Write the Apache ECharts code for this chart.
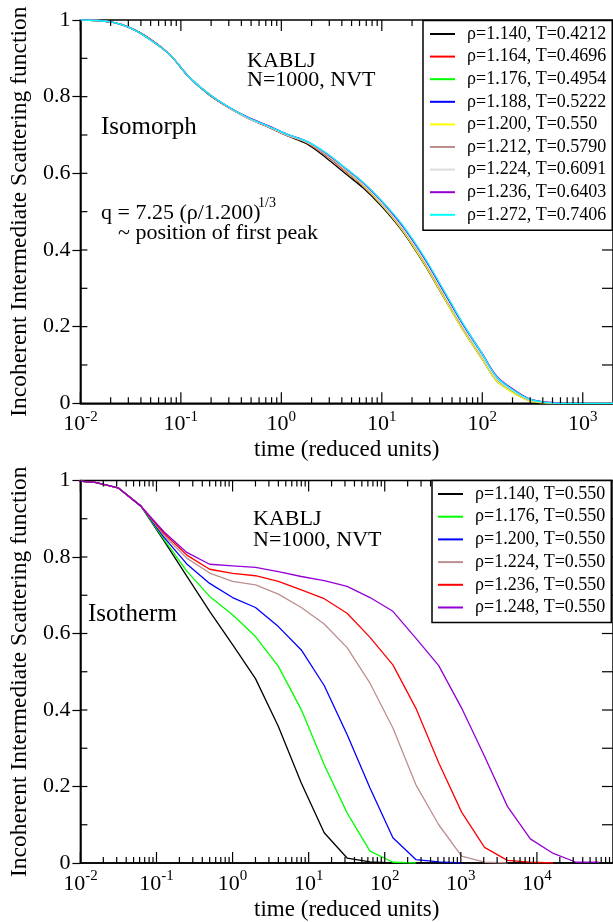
<!DOCTYPE html>
<html>
<head>
<meta charset="utf-8">
<script src="https://cdn.jsdelivr.net/npm/echarts@6/dist/echarts.min.js"></script>
<style>
html,body{margin:0;padding:0;background:#fff;}
#c{width:613px;height:922px;}
</style>
</head>
<body>
<div id="c"></div>
<script>
const FONT = 'Liberation Serif';

// ---------- Top panel (isomorph) ----------
const timeTop = [0.01, 0.02, 0.032, 0.05, 0.078, 0.12, 0.19, 0.3, 0.47, 0.73, 1.14, 1.78, 2.8, 4.4, 6.5, 10, 16, 26, 41, 64, 100, 140, 210, 300, 450, 700, 1200, 2000];
const namesTop = ['ρ=1.140, T=0.4212', 'ρ=1.164, T=0.4696', 'ρ=1.176, T=0.4954', 'ρ=1.188, T=0.5222', 'ρ=1.200, T=0.550', 'ρ=1.212, T=0.5790', 'ρ=1.224, T=0.6091', 'ρ=1.236, T=0.6403', 'ρ=1.272, T=0.7406'];
const colorsTop = ['#000000', '#ff0000', '#00ff00', '#0000ff', '#ffff00', '#bc8f8f', '#dcdcdc', '#9400d3', '#00ffff'];
const iso1140 = [1.0,0.995,0.979,0.950,0.909,0.851,0.805,0.771,0.743,0.722,0.698,0.677,0.640,0.598,0.562,0.513,0.449,0.366,0.278,0.192,0.115,0.058,0.026,0.007,0.001,0,0,0];
const iso1164 = [1.0,0.995,0.978,0.949,0.909,0.852,0.806,0.771,0.743,0.722,0.699,0.680,0.646,0.604,0.567,0.517,0.453,0.370,0.282,0.195,0.118,0.060,0.028,0.008,0.002,0,0,0];
const iso1176 = [1.0,0.995,0.978,0.948,0.909,0.852,0.807,0.772,0.744,0.723,0.700,0.681,0.648,0.606,0.569,0.518,0.453,0.370,0.281,0.194,0.117,0.059,0.027,0.008,0.001,0,0,0];
const iso1188 = [1.0,0.995,0.978,0.948,0.909,0.852,0.807,0.772,0.745,0.724,0.701,0.683,0.651,0.610,0.574,0.524,0.461,0.380,0.291,0.205,0.127,0.067,0.032,0.010,0.002,0,0,0];
const iso1200 = [1.0,0.995,0.978,0.948,0.909,0.852,0.807,0.772,0.744,0.723,0.700,0.682,0.649,0.607,0.569,0.518,0.452,0.368,0.279,0.192,0.115,0.058,0.025,0.006,0.001,0,0,0];
const iso1212 = [1.0,0.995,0.979,0.949,0.909,0.852,0.806,0.771,0.743,0.722,0.699,0.681,0.648,0.607,0.570,0.520,0.455,0.373,0.284,0.197,0.120,0.062,0.029,0.008,0.002,0,0,0];
const iso1224 = [1.0,0.995,0.978,0.948,0.909,0.852,0.807,0.772,0.744,0.723,0.700,0.682,0.650,0.609,0.572,0.522,0.458,0.376,0.287,0.200,0.122,0.063,0.030,0.009,0.002,0,0,0];
const iso1236 = [1.0,0.995,0.978,0.948,0.909,0.852,0.807,0.773,0.746,0.725,0.702,0.684,0.652,0.612,0.576,0.527,0.464,0.383,0.295,0.208,0.130,0.070,0.034,0.011,0.003,0,0,0];
const iso1272 = [1.0,0.995,0.978,0.948,0.909,0.852,0.807,0.773,0.745,0.724,0.702,0.684,0.653,0.613,0.577,0.528,0.466,0.385,0.297,0.209,0.129,0.068,0.032,0.010,0.002,0,0,0];
const valuesTop = [iso1140, iso1164, iso1176, iso1188, iso1200, iso1212, iso1224, iso1236, iso1272];

// ---------- Bottom panel (isotherm) ----------
const timeBot = [0.0078125, 0.015625, 0.03125, 0.0625, 0.125, 0.25, 0.5, 1, 2, 4, 8, 16, 32, 64, 128, 256, 512, 1024, 2048, 4096, 8192, 16384, 32768, 65536];
const namesBot = ['ρ=1.140, T=0.550', 'ρ=1.176, T=0.550', 'ρ=1.200, T=0.550', 'ρ=1.224, T=0.550', 'ρ=1.236, T=0.550', 'ρ=1.248, T=0.550'];
const colorsBot = ['#000000', '#00ff00', '#0000ff', '#bc8f8f', '#ff0000', '#9400d3'];
const ith1140 = [1.0,0.995,0.981,0.933,0.843,0.750,0.658,0.571,0.482,0.357,0.209,0.079,0.013,0.003,0.0];
const ith1176 = [1.0,0.995,0.981,0.933,0.847,0.763,0.697,0.649,0.592,0.514,0.401,0.257,0.131,0.031,0.002,0.0];
const ith1200 = [1.0,0.995,0.981,0.933,0.852,0.782,0.731,0.694,0.668,0.618,0.557,0.464,0.336,0.196,0.066,0.009,0.003,0.0];
const ith1224 = [1.0,0.995,0.981,0.933,0.857,0.797,0.758,0.736,0.727,0.703,0.668,0.625,0.563,0.470,0.353,0.205,0.100,0.018,0.002,0.0];
const ith1236 = [1.0,0.995,0.981,0.933,0.862,0.805,0.768,0.757,0.751,0.736,0.714,0.691,0.653,0.590,0.518,0.405,0.262,0.133,0.041,0.007,0.002,0.0];
const ith1248 = [1.0,0.995,0.981,0.933,0.866,0.812,0.781,0.777,0.773,0.762,0.749,0.738,0.723,0.694,0.658,0.588,0.516,0.405,0.279,0.148,0.063,0.025,0.002,0.002];
const valuesBot = [ith1140, ith1176, ith1200, ith1224, ith1236, ith1248];

// ---------- Axes ----------
const xRangeTop = [0.01, 2000];
const xRangeBot = [0.01, 100000];
const yTickLabels = [0, 0.2, 0.4, 0.6, 0.8, 1];
const yMinorStep = [0.1, 0.2, 0.3, 0.4, 0.5, 0.6, 0.7, 0.8, 0.9];
const xTitle = 'time (reduced units)';
const yTitle = 'Incoherent Intermediate Scattering function';

const black = '#000';

// tick marks (x: decades and 2..9 multiples; y: every 0.1), placed through the axes' scales
function tickData(range) {
  const out = [];
  const lo = Math.floor(Math.log10(range[0]));
  const hi = Math.ceil(Math.log10(range[1]));
  for (let d = lo; d <= hi; d++) {
    for (let m = 1; m <= 9; m++) {
      const v = +(m * Math.pow(10, d)).toPrecision(6);
      if (v >= range[0] && v < range[1]) out.push([v, 0, 0, m === 1 ? 11 : 6, range[1]]);
    }
  }
  yMinorStep.forEach(function (y) { out.push([range[0], y, 1, 7, range[1]]); });
  return out;
}
function tickRender(params, api) {
  const kind = api.value(2);
  const len = api.value(3);
  const st = { stroke: black, lineWidth: 1.2 };
  if (kind === 0) {
    const pb = api.coord([api.value(0), 0]);
    const pt = api.coord([api.value(0), 1]);
    return { type: 'group', children: [
      { type: 'line', shape: { x1: pb[0], y1: pb[1], x2: pb[0], y2: pb[1] - len }, style: st },
      { type: 'line', shape: { x1: pt[0], y1: pt[1], x2: pt[0], y2: pt[1] + len }, style: st }
    ] };
  }
  const pl = api.coord([api.value(0), api.value(1)]);
  const pr = api.coord([api.value(4), api.value(1)]);
  return { type: 'group', children: [
    { type: 'line', shape: { x1: pl[0], y1: pl[1], x2: pl[0] + len, y2: pl[1] }, style: st },
    { type: 'line', shape: { x1: pr[0], y1: pr[1], x2: pr[0] - 11, y2: pr[1] }, style: st }
  ] };
}

const richLbl = {
  b: { fontFamily: FONT, fontSize: 22, color: black, lineHeight: 26, verticalAlign: 'bottom' },
  e: { fontFamily: FONT, fontSize: 15, color: black, lineHeight: 15, verticalAlign: 'top' }
};
function expFmt(v) {
  const e = Math.round(Math.log10(v));
  return '{b|10}{e|' + e + '}';
}

function xAxisFor(gi, range) {
  return {
    gridIndex: gi, type: 'log', logBase: 10, min: range[0], max: range[1],
    splitLine: { show: false }, minorTick: { show: false },
    axisLine: { show: true, onZero: false, lineStyle: { color: black, width: 1.5 } },
    axisTick: { show: false },
    axisLabel: { show: true, margin: 6, formatter: expFmt, rich: richLbl, showMaxLabel: false },
    name: xTitle, nameLocation: 'middle', nameGap: 35,
    nameTextStyle: { fontFamily: FONT, fontSize: 23, color: black }
  };
}
function yAxisFor(gi) {
  return {
    gridIndex: gi, type: 'value', min: 0, max: 1, interval: 0.2, splitLine: { show: false },
    axisLine: { show: true, onZero: false, lineStyle: { color: black, width: 1.5 } },
    axisTick: { show: true, inside: false, length: 8, lineStyle: { color: black, width: 1.2 } },
    axisLabel: { show: true, margin: 10, fontFamily: FONT, fontSize: 22, color: black,
      formatter: function (v) { return String(yTickLabels[Math.round(v * 5)]); } },
    name: yTitle, nameLocation: 'middle', nameGap: 39,
    nameTextStyle: { fontFamily: FONT, fontSize: 23.5, color: black }
  };
}

const series = [];
namesTop.forEach(function (n, i) {
  series.push({
    name: n, type: 'line', xAxisIndex: 0, yAxisIndex: 0,
    data: timeTop.map(function (t, j) { return [t, valuesTop[i][j]]; }),
    smooth: 0.35, showSymbol: false, symbol: 'none', clip: true,
    color: colorsTop[i], lineStyle: { color: colorsTop[i], width: 1.3 }, z: 3 + i
  });
});
namesBot.forEach(function (n, i) {
  const vals = valuesBot[i];
  series.push({
    name: n, type: 'line', xAxisIndex: 1, yAxisIndex: 1,
    data: vals.map(function (v, j) { return [timeBot[j], v]; }),
    smooth: false, showSymbol: false, symbol: 'none', clip: true,
    color: colorsBot[i], lineStyle: { color: colorsBot[i], width: 1.3 }, z: 3 + i
  });
});
series.push({ type: 'custom', name: 'ticksTop', xAxisIndex: 0, yAxisIndex: 0, clip: false, z: 20,
  encode: { x: 0, y: 1 }, renderItem: tickRender, data: tickData(xRangeTop), silent: true });
series.push({ type: 'custom', name: 'ticksBot', xAxisIndex: 1, yAxisIndex: 1, clip: false, z: 20,
  encode: { x: 0, y: 1 }, renderItem: tickRender, data: tickData(xRangeBot), silent: true });

function legendData(names, colors) {
  return names.map(function (n, i) {
    return { name: n, icon: 'rect', itemStyle: { color: colors[i], borderWidth: 0 } };
  });
}
const legendText = { fontFamily: FONT, fontSize: 18, color: black, lineHeight: 22, padding: [0, 0, 0, 7] };

function txt(x, y, s, size) {
  return { type: 'text', x: x, y: y, z: 100,
    style: { text: s, font: size + 'px "' + FONT + '"', fill: black, align: 'left', verticalAlign: 'middle' } };
}

const option = {
  animation: false,
  backgroundColor: '#fff',
  grid: [
    { left: 68, top: 20, width: 545.5, height: 383.3, containLabel: false, show: true, borderColor: black, borderWidth: 1.5, backgroundColor: 'transparent' },
    { left: 68, top: 480.5, width: 545.5, height: 383, containLabel: false, show: true, borderColor: black, borderWidth: 1.5, backgroundColor: 'transparent' }
  ],
  xAxis: [xAxisFor(0, xRangeTop), xAxisFor(1, xRangeBot)],
  yAxis: [yAxisFor(0), yAxisFor(1)],
  legend: [
    { orient: 'vertical', left: 423, top: 20.5, itemWidth: 25, itemHeight: 2, itemGap: 0.6,
      padding: [2.5, 6, 4.5, 7], backgroundColor: '#fff', borderColor: black, borderWidth: 1.5,
      selectedMode: false, textStyle: legendText, data: legendData(namesTop, colorsTop), z: 50 },
    { orient: 'vertical', left: 432, top: 480.5, itemWidth: 25, itemHeight: 2, itemGap: 0.7,
      padding: [2.5, 6, 4, 6], backgroundColor: '#fff', borderColor: black, borderWidth: 1.5,
      selectedMode: false, textStyle: legendText, data: legendData(namesBot, colorsBot), z: 50 }
  ],
  graphic: [
    txt(247, 61, 'KABLJ', 22),
    txt(247, 80, 'N=1000, NVT', 22),
    txt(101, 127, 'Isomorph', 25),
    txt(101, 213, 'q = 7.25 (ρ/1.200)', 22),
    txt(258, 203, '1/3', 14),
    txt(118, 233, '~ position of first peak', 22),
    txt(253, 519, 'KABLJ', 22),
    txt(253, 540, 'N=1000, NVT', 22),
    txt(88, 614, 'Isotherm', 25)
  ],
  series: series
};

const chart = echarts.init(document.getElementById('c'), null, { renderer: 'canvas', width: 613, height: 922 });
chart.setOption(option);
</script>
</body>
</html>
